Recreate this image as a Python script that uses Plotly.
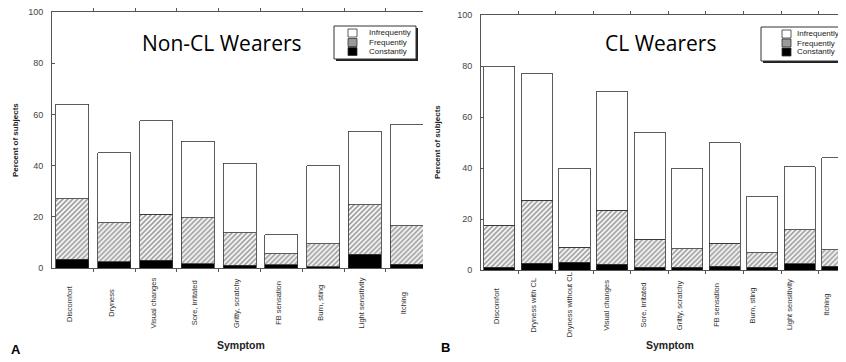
import plotly.graph_objects as go

# ---------------- data ----------------
cats_a = ["Discomfort", "Dryness", "Visual changes", "Sore, irritated", "Gritty, scratchy",
          "FB sensation", "Burn, sting", "Light sensitivity", "Itching"]
# cumulative heights (percent of subjects)
a_constantly = [3.5, 2.5, 3.0, 1.7, 1.0, 1.3, 0.5, 5.3, 1.5]
a_freq_top   = [27.0, 17.6, 21.0, 19.7, 13.7, 5.6, 9.5, 24.7, 16.5]
a_total      = [64.0, 45.0, 57.5, 49.5, 41.0, 13.0, 40.0, 53.5, 56.0]

cats_b = ["Discomfort", "Dryness with CL", "Dryness without CL", "Visual changes",
          "Sore, irritated", "Gritty, scratchy", "FB sensation", "Burn, sting",
          "Light sensitivity", "Itching"]
b_constantly = [1.0, 2.7, 3.0, 2.3, 1.0, 1.0, 1.5, 1.0, 2.5, 1.5]
b_freq_top   = [17.6, 27.4, 9.0, 23.5, 12.0, 8.3, 10.5, 6.7, 15.7, 8.0]
b_total      = [80.0, 77.0, 40.0, 70.0, 54.0, 40.0, 50.0, 29.0, 40.5, 44.0]

y_ticks = [0, 20, 40, 60, 80, 100]
legend_labels = ["Infrequently", "Frequently", "Constantly"]

# the page body has an 8px margin; size the figure to fill the window after it
OFF = 8
W, H = 846 - OFF, 362 - OFF
def px(x):
    return (x - OFF) / W
def py(y):
    return 1 - (y - OFF) / H

LINE = "#333333"
HATCH = dict(shape="/", fgcolor="#3a3a3a", bgcolor="white", size=3.5, solidity=0.5)

fig = go.Figure()

def add_panel(cats, const, ftop, total, xa, ya, width):
    freq = [f - c for f, c in zip(ftop, const)]
    infreq = [t - f for t, f in zip(total, ftop)]
    fig.add_trace(go.Bar(x=cats, y=const, xaxis=xa, yaxis=ya, width=width,
                         marker=dict(color="black", line=dict(color=LINE, width=0.8)),
                         showlegend=False, name="Constantly"))
    fig.add_trace(go.Bar(x=cats, y=freq, xaxis=xa, yaxis=ya, width=width,
                         marker=dict(color="white", pattern=HATCH, line=dict(color=LINE, width=0.8)),
                         showlegend=False, name="Frequently"))
    fig.add_trace(go.Bar(x=cats, y=infreq, xaxis=xa, yaxis=ya, width=width,
                         marker=dict(color="white", line=dict(color=LINE, width=0.8)),
                         showlegend=False, name="Infrequently"))

add_panel(cats_a, a_constantly, a_freq_top, a_total, "x", "y", 0.79)
add_panel(cats_b, b_constantly, b_freq_top, b_total, "x2", "y2", 0.83)

axis_common = dict(showline=True, linecolor="#555555", linewidth=1, showgrid=False,
                   zeroline=False, automargin=False)
yaxis_common = dict(range=[0, 100], tickvals=y_ticks, ticks="inside", ticklen=3,
                    tickcolor="#555555", ticklabelstandoff=6, ticklabeloverflow="allow",
                    tickfont=dict(size=9, color="#444444"), **axis_common)
xaxis_common = dict(showticklabels=False, ticks="outside", ticklen=3, tickcolor="#555555",
                    tickson="boundaries", mirror="ticks", **axis_common)

fig.update_layout(
    width=W, height=H, autosize=False, barmode="stack", bargap=0.2,
    margin=dict(l=0, r=0, t=0, b=0, pad=0, autoexpand=False),
    showlegend=False,
    paper_bgcolor="white", plot_bgcolor="white",
    font=dict(family="Liberation Sans, Arial, sans-serif", color="#333333"),
    xaxis=dict(domain=[px(52), px(423)], anchor="y", range=[-0.49, 8.39], **xaxis_common),
    yaxis=dict(domain=[py(268), py(12)], anchor="x", **yaxis_common),
    xaxis2=dict(domain=[px(481), 1.0], anchor="y2", range=[-0.49, 9.23], **xaxis_common),
    yaxis2=dict(domain=[py(270), py(15)], anchor="x2", **yaxis_common),
)

ann = []
def text_at(x, y, text, size, color="#222222", angle=0, xanchor="center", family=None,
            xref="paper", xshift=0):
    font = dict(size=size, color=color)
    if family:
        font["family"] = family
    ann.append(dict(x=x if xref != "paper" else px(x), xref=xref, y=py(y), yref="paper",
                    text=text, textangle=angle, showarrow=False, xshift=xshift,
                    xanchor=xanchor, yanchor="middle", font=font))

# category labels (rotated, centred, sitting slightly left of the bar centres)
for c in cats_a:
    text_at(c, 303, c, 7.5, "#333333", -90, xref="x", xshift=-3.5)
for i, c in enumerate(cats_b):
    text_at(c, 305, c, 7.5, "#333333", -90, xref="x2", xshift=-3.5 - 0.9 * i)
# axis titles
for x, y in [(241, 345), (670, 345)]:
    text_at(x, y, "<b>Symptom</b>", 10.5)
for x, y in [(15, 140), (438, 142)]:
    text_at(x, y, "<b>Percent of subjects</b>", 8, angle=-90)
# panel letters
text_at(16, 349, "<b>A</b>", 13, "black")
text_at(445, 347, "<b>B</b>", 13, "black")
# panel titles
text_at(222, 43, "Non-CL Wearers", 21, "black", family="Open Sans, sans-serif")
text_at(660, 43, "CL Wearers", 21, "black", family="Open Sans, sans-serif")

shapes = []
def legend_box(x0, y0, x1, y1, sw_x, text_x, rows):
    # drop shadow
    shapes.append(dict(type="rect", xref="paper", yref="paper", x0=px(x0 + 2), x1=px(x1 + 2),
                       y0=py(y1 + 2), y1=py(y0 + 2), fillcolor="#222222", line=dict(width=0)))
    shapes.append(dict(type="rect", xref="paper", yref="paper", x0=px(x0), x1=px(x1),
                       y0=py(y1), y1=py(y0), fillcolor="white", line=dict(color="#333333", width=1)))
    fills = ["white", "#9a9a9a", "black"]
    for (ry, lab, f) in zip(rows, legend_labels, fills):
        shapes.append(dict(type="rect", xref="paper", yref="paper", x0=px(sw_x), x1=px(sw_x + 9),
                           y0=py(ry + 4), y1=py(ry - 4), fillcolor=f,
                           line=dict(color="#333333", width=0.8)))
        text_at(text_x, ry, lab, 8, xanchor="left")

legend_box(334, 26, 416, 59, 348, 367, [33, 42.5, 51.5])
legend_box(761, 27, 850, 61, 782, 795, [34, 43, 52])

fig.update_layout(annotations=ann, shapes=shapes)
fig.write_html("out.html")
